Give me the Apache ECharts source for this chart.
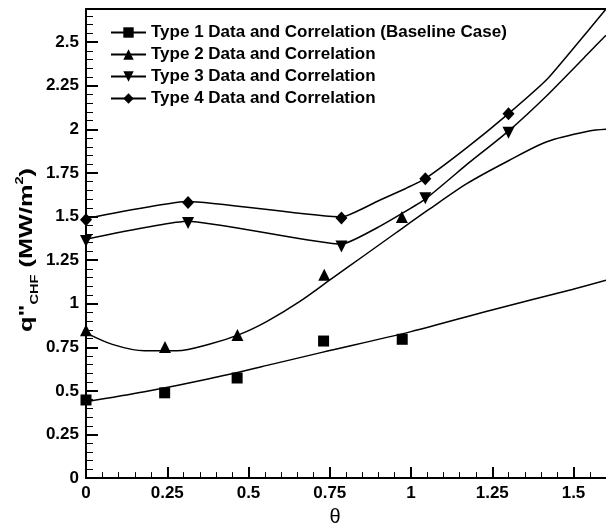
<!DOCTYPE html>
<html>
<head>
<meta charset="utf-8">
<script src="https://cdn.jsdelivr.net/npm/echarts@6/dist/echarts.min.js"></script>
<style>
  html, body { margin: 0; padding: 0; background: #fff; }
  #main { width: 606px; height: 532px; }
</style>
</head>
<body>
<div id="main"></div>
<script>
// tick labels
var xTicks = [0, 0.25, 0.5, 0.75, 1, 1.25, 1.5];
var yTicks = [0, 0.25, 0.5, 0.75, 1, 1.25, 1.5, 1.75, 2, 2.25, 2.5];

var seriesNames = [
    'Type 1 Data and Correlation (Baseline Case)',
    'Type 2 Data and Correlation',
    'Type 3 Data and Correlation',
    'Type 4 Data and Correlation'
];

// measured data (symbols)
var type1Theta = [0, 0.242, 0.465, 0.731, 0.973];
var type1Flux = [0.448, 0.489, 0.574, 0.786, 0.796];
var type2Theta = [0, 0.243, 0.466, 0.733, 0.972];
var type2Flux = [0.848, 0.752, 0.82, 1.166, 1.497];
var type34Theta = [0, 0.314, 0.786, 1.044, 1.30];
var type3Flux = [1.36, 1.463, 1.328, 1.605, 1.98];
var type4Flux = [1.482, 1.58, 1.492, 1.717, 2.09];

// correlation curves
var corr1Theta = [0, 0.18, 0.379, 0.577, 0.726, 1.0, 1.246, 1.496, 1.6];
var corr1Flux = [0.438, 0.495, 0.57, 0.655, 0.721, 0.84, 0.963, 1.082, 1.135];
var corr2Theta = [0, 0.081, 0.18, 0.28, 0.379, 0.473, 0.557, 0.657, 0.756, 0.855, 0.954, 1.054, 1.173, 1.30, 1.42, 1.548, 1.6];
var corr2Flux = [0.833, 0.767, 0.73, 0.73, 0.767, 0.824, 0.899, 1.012, 1.144, 1.275, 1.407, 1.539, 1.69, 1.82, 1.93, 1.99, 2.0];
var corr3Theta = [0, 0.314, 0.786, 0.905, 1.044, 1.173, 1.30, 1.42, 1.548, 1.6];
var corr3Flux = [1.37, 1.473, 1.341, 1.445, 1.60, 1.80, 1.99, 2.197, 2.44, 2.54];
var corr4Theta = [0, 0.314, 0.786, 0.905, 0.984, 1.044, 1.173, 1.30, 1.42, 1.548, 1.6];
var corr4Flux = [1.488, 1.586, 1.497, 1.595, 1.661, 1.717, 1.896, 2.09, 2.29, 2.573, 2.69];

function pairs(xs, ys) {
    return xs.map(function (x, i) { return [x, ys[i]]; });
}

var FONT = '"Liberation Sans", Arial, sans-serif';
var black = '#000';

function corrLine(name, xs, ys, symbol, rotate, smooth) {
    return {
        name: name,
        type: 'line',
        data: pairs(xs, ys),
        smooth: smooth,
        showSymbol: false,
        symbol: symbol,
        symbolRotate: rotate,
        itemStyle: { color: black },
        lineStyle: { color: black, width: 1.5 },
        z: 2,
        silent: true
    };
}

function dataPoints(name, xs, ys, symbol, rotate, size) {
    return {
        name: name,
        type: 'scatter',
        data: pairs(xs, ys),
        symbol: symbol,
        symbolRotate: rotate,
        symbolSize: size,
        itemStyle: { color: black, opacity: 1 },
        z: 3
    };
}

var myChart = echarts.init(document.getElementById('main'), null, { renderer: 'canvas' });

var option = {
    backgroundColor: '#fff',
    animation: false,
    textStyle: { fontFamily: FONT, color: black },
    grid: { left: 86, right: -17.6, top: 9, bottom: 46 },
    legend: {
        data: seriesNames,
        orient: 'vertical',
        left: 110,
        top: 24,
        padding: 0,
        itemWidth: 35,
        itemHeight: 13,
        itemGap: 5,
        textStyle: { fontSize: 17, fontWeight: 'bold', color: black, fontFamily: FONT },
        selectedMode: false
    },
    xAxis: [
        {
            type: 'value',
            min: 0,
            max: 1.6,
            interval: 0.25,
            name: 'θ',
            nameLocation: 'middle',
            nameGap: 22,
            nameTextStyle: { fontSize: 20, color: black, padding: [0, 22, 0, 0], fontFamily: FONT },
            axisLine: { lineStyle: { color: black, width: 2 } },
            axisTick: { show: true, inside: true, length: 11, customValues: xTicks, lineStyle: { color: black, width: 2 } },
            minorTick: { show: true, splitNumber: 5, length: 6, lineStyle: { color: black, width: 1 } },
            axisLabel: { customValues: xTicks, margin: 7, fontSize: 17, fontWeight: 'bold', color: black, fontFamily: FONT },
            splitLine: { show: false }
        },
        {
            type: 'value',
            position: 'top',
            min: 0,
            max: 1.6,
            axisLine: { show: true, lineStyle: { color: black, width: 2 } },
            axisTick: { show: false },
            axisLabel: { show: false },
            splitLine: { show: false }
        }
    ],
    yAxis: {
        type: 'value',
        min: 0,
        max: 2.69,
        interval: 0.25,
        axisLine: { show: true, lineStyle: { color: black, width: 2 } },
        axisTick: { show: true, inside: true, length: 12, customValues: yTicks, lineStyle: { color: black, width: 2 } },
        minorTick: { show: true, splitNumber: 5, length: 7, lineStyle: { color: black, width: 1 } },
        axisLabel: { customValues: yTicks, margin: 7, fontSize: 17, fontWeight: 'bold', color: black, fontFamily: FONT },
        splitLine: { show: false }
    },
    graphic: [
        {
            type: 'text',
            x: 27,
            y: 250,
            rotation: Math.PI / 2,
            scaleX: 1.33,
            style: {
                text: '{a|q"}{s|CHF}{a| (MW/m}{p|2}{a|)}',
                align: 'center',
                verticalAlign: 'middle',
                fill: black,
                rich: {
                    a: { fontSize: 19, fontWeight: 'bold', fontFamily: FONT, lineHeight: 26, fill: black },
                    s: { fontSize: 11, fontWeight: 'bold', fontFamily: FONT, verticalAlign: 'bottom', lineHeight: 26, fill: black },
                    p: { fontSize: 11, fontWeight: 'bold', fontFamily: FONT, verticalAlign: 'top', lineHeight: 22, fill: black }
                }
            }
        }
    ],
    series: [
        corrLine(seriesNames[0], corr1Theta, corr1Flux, 'rect', 0, 0.3),
        corrLine(seriesNames[1], corr2Theta, corr2Flux, 'triangle', 0, 0.3),
        corrLine(seriesNames[2], corr3Theta, corr3Flux, 'triangle', 180, 0.15),
        corrLine(seriesNames[3], corr4Theta, corr4Flux, 'diamond', 0, 0.15),
        dataPoints(seriesNames[0], type1Theta, type1Flux, 'rect', 0, 11),
        dataPoints(seriesNames[1], type2Theta, type2Flux, 'triangle', 0, 12),
        dataPoints(seriesNames[2], type34Theta, type3Flux, 'triangle', 180, 12),
        dataPoints(seriesNames[3], type34Theta, type4Flux, 'diamond', 0, [12, 13])
    ]
};

myChart.setOption(option);
</script>
</body>
</html>
